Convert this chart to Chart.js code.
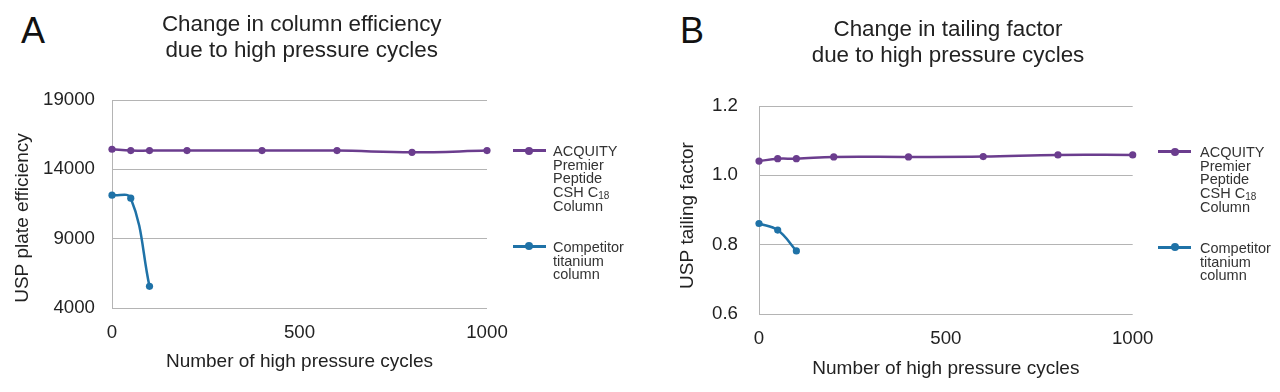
<!DOCTYPE html>
<html>
<head>
<meta charset="utf-8">
<script src="https://cdn.jsdelivr.net/npm/chart.js@4.4.1/dist/chart.umd.min.js"></script>
<style>
  html, body { margin: 0; padding: 0; background: #ffffff; }
  body { width: 1280px; height: 392px; position: relative; overflow: hidden; font-family: "Liberation Sans", Arial, sans-serif; }
  .wrap { position: absolute; top: 0; height: 392px; }
  .letter { position: absolute; font-size: 36px; line-height: 36px; color: #111; }
  .lg-mark { position: absolute; width: 33px; height: 2.5px; }
  .lg-dot { position: absolute; width: 8px; height: 8px; border-radius: 50%; left: 12.5px; top: -2.75px; }
  .lg-text { position: absolute; font-size: 14.5px; line-height: 13.5px; color: #333; }
  .lg-text sub { font-size: 10px; vertical-align: baseline; position: relative; top: 2px; }
</style>
</head>
<body>
<div class="letter" style="left:21px; top:13px;">A</div>
<div class="letter" style="left:680px; top:13px;">B</div>
<div class="wrap" style="left:0; width:600px;"><canvas id="chartA"></canvas></div>
<div class="wrap" style="left:640px; width:614px;"><canvas id="chartB"></canvas></div>
<div id="legendA"></div>
<div id="legendB"></div>
<script>
// ---- data ----
const cyclesPremier = [0, 50, 100, 200, 400, 600, 800, 1000];
const cyclesCompetitor = [0, 50, 100];
const platePremier = [15450, 15350, 15350, 15350, 15350, 15350, 15230, 15350];
const plateCompetitor = [12140, 11920, 5560];
const tailingPremier = [1.041, 1.048, 1.048, 1.053, 1.053, 1.054, 1.059, 1.059];
const tailingCompetitor = [0.861, 0.842, 0.782];
const seriesNames = ["ACQUITY Premier Peptide CSH C18 Column", "Competitor titanium column"];
const titleA = ["Change in column efficiency", "due to high pressure cycles"];
const titleB = ["Change in tailing factor", "due to high pressure cycles"];
const xTitle = "Number of high pressure cycles";
const yTitleA = "USP plate efficiency";
const yTitleB = "USP tailing factor";
const xTicks = [0, 500, 1000];
const yTicksA = [4000, 9000, 14000, 19000];
const yTicksB = [0.6, 0.8, 1.0, 1.2];

const PURPLE = "#6b3d8e";
const BLUE = "#1f72a7";
const GRID = "#b4b4b4";
const FONT = "'Liberation Sans', Arial, sans-serif";

function pts(xs, ys) { return xs.map((x, i) => ({ x: x, y: ys[i] })); }

// titles placed where the original has them (centred over the plot, y title a little below middle)
const textPlugin = {
  id: 'placedText',
  afterDraw(chart, args, opts) {
    const ctx = chart.ctx;
    ctx.save();
    ctx.fillStyle = opts.color;
    ctx.textAlign = 'center';
    ctx.textBaseline = 'middle';
    // main title
    ctx.font = opts.titleSize + 'px ' + FONT;
    opts.title.forEach((line, i) => ctx.fillText(line, opts.titleX, opts.titleY[i]));
    // y-axis title
    ctx.translate(opts.yTitleX, opts.yTitleY);
    ctx.rotate(-Math.PI / 2);
    ctx.font = opts.yTitleSize + 'px ' + FONT;
    ctx.fillText(opts.yTitle, 0, 0);
    ctx.restore();
  }
};

function makeChart(id, cfg) {
  const ds = (label, data, color) => ({
    label: label, data: data, borderColor: color, backgroundColor: color,
    borderWidth: 2.5, pointRadius: 3.6, pointHoverRadius: 3.6, pointBorderWidth: 0,
    tension: 0.4, clip: false
  });
  return new Chart(document.getElementById(id), {
    type: 'line',
    data: { datasets: [
      ds(seriesNames[0], pts(cyclesPremier, cfg.premier), PURPLE),
      ds(seriesNames[1], pts(cyclesCompetitor, cfg.competitor), BLUE)
    ]},
    plugins: [textPlugin],
    options: {
      responsive: true, maintainAspectRatio: false, animation: false,
      layout: { padding: { left: 0, right: cfg.padRight, top: cfg.padTop, bottom: 0 } },
      plugins: {
        legend: { display: false },
        tooltip: { enabled: false },
        title: { display: false },
        placedText: {
          color: '#222',
          title: cfg.title, titleSize: 22.4, titleX: cfg.titleX, titleY: cfg.titleY,
          yTitle: cfg.yTitle, yTitleSize: 19, yTitleX: cfg.yTitleX, yTitleY: cfg.yTitleY
        }
      },
      scales: {
        x: {
          type: 'linear', min: xTicks[0], max: xTicks[xTicks.length - 1],
          afterBuildTicks: (s) => { s.ticks = xTicks.map(v => ({ value: v })); },
          afterFit: (s) => { s.height = cfg.xHeight; },
          grid: { display: false, drawTicks: false },
          border: { display: false },
          ticks: { color: '#222', padding: 13.8, font: { family: FONT, size: 18.7 }, maxRotation: 0,
                   callback: (v) => String(v) },
          title: { display: true, text: xTitle, color: '#222', font: { family: FONT, size: 19 },
                   padding: { top: 0, bottom: cfg.xTitleBottom } }
        },
        y: {
          type: 'linear', min: cfg.yTicks[0], max: cfg.yTicks[cfg.yTicks.length - 1],
          afterBuildTicks: (s) => { s.ticks = cfg.yTicks.map(v => ({ value: v })); },
          afterFit: (s) => { s.width = cfg.yWidth; },
          grid: { color: GRID, lineWidth: 1, drawTicks: false },
          border: { display: true, color: GRID, width: 1 },
          ticks: { color: '#222', padding: cfg.yTickPad, font: { family: FONT, size: 18.7 },
                   callback: cfg.fmt },
          title: { display: false }
        }
      }
    }
  });
}

makeChart('chartA', {
  premier: platePremier, competitor: plateCompetitor, title: titleA, yTitle: yTitleA,
  yTicks: yTicksA, fmt: (v) => String(v),
  padTop: 100, padRight: 113, xHeight: 84, xTitleBottom: 18.9,
  yWidth: 112, yTickPad: 17,
  titleX: 301.7, titleY: [25, 50.5], yTitleX: 23, yTitleY: 218
});
makeChart('chartB', {
  premier: tailingPremier, competitor: tailingCompetitor, title: titleB, yTitle: yTitleB,
  yTicks: yTicksB, fmt: (v) => Number(v).toFixed(1),
  padTop: 106, padRight: 121.3, xHeight: 78, xTitleBottom: 12.3,
  yWidth: 119, yTickPad: 21,
  titleX: 308, titleY: [30, 55.7], yTitleX: 48, yTitleY: 215.5
});

// ---- HTML legends ----
function legend(el, x, markerY1, markerY2, textX) {
  const host = document.getElementById(el);
  const items = [
    { color: PURPLE, y: markerY1, html: "ACQUITY<br>Premier<br>Peptide<br>CSH C<sub>18</sub><br>Column" },
    { color: BLUE, y: markerY2, html: "Competitor<br>titanium<br>column" }
  ];
  items.forEach(it => {
    const m = document.createElement('div');
    m.className = 'lg-mark';
    m.style.left = x + 'px'; m.style.top = (it.y - 1.25) + 'px'; m.style.background = it.color;
    const d = document.createElement('div');
    d.className = 'lg-dot'; d.style.background = it.color;
    m.appendChild(d);
    host.appendChild(m);
    const t = document.createElement('div');
    t.className = 'lg-text';
    t.style.left = textX + 'px'; t.style.top = (it.y + 1.5 - 6.75) + 'px';
    t.innerHTML = it.html;
    host.appendChild(t);
  });
}
legend('legendA', 512.7, 150.7, 246.3, 553);
legend('legendB', 1158.3, 151.7, 247.3, 1200);
</script>
</body>
</html>
